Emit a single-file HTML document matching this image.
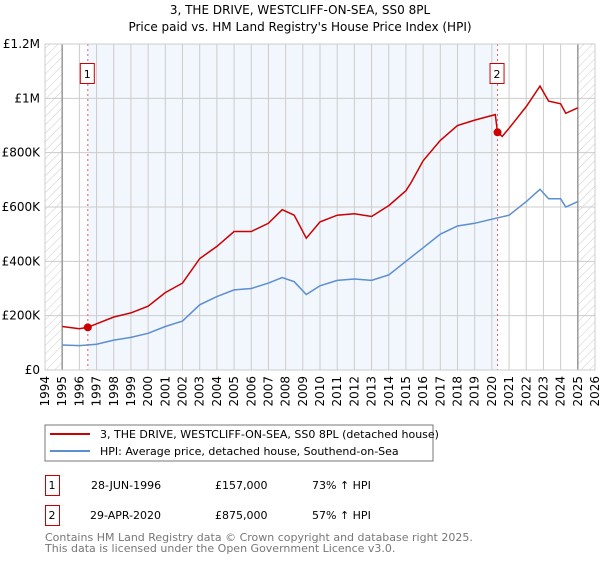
<!DOCTYPE html>
<html><head><meta charset="utf-8"><style>
body{margin:0;background:#fff;width:600px;height:560px;overflow:hidden;font-family:"DejaVu Sans","Liberation Sans",sans-serif;}
svg text{font-family:"DejaVu Sans","Liberation Sans",sans-serif;}
</style></head><body>
<svg id="c" width="600" height="560" xmlns="http://www.w3.org/2000/svg">
<defs><pattern id="hatch" width="6" height="6" patternUnits="userSpaceOnUse" patternTransform="rotate(45)"><line x1="0" y1="0" x2="0" y2="6" stroke="#ccc" stroke-width="1"/></pattern></defs>
<text x="300" y="14" text-anchor="middle" font-size="12" fill="#000">3, THE DRIVE, WESTCLIFF-ON-SEA, SS0 8PL</text>
<text x="300" y="31" text-anchor="middle" font-size="12" fill="#000">Price paid vs. HM Land Registry's House Price Index (HPI)</text>
<g id="plot"></g>
<rect x="45" y="425" width="388" height="36" fill="#fff" stroke="#777"/>
<line x1="50" y1="434" x2="90" y2="434" stroke="#cc0000" stroke-width="2"/>
<text x="100" y="438" font-size="11">3, THE DRIVE, WESTCLIFF-ON-SEA, SS0 8PL (detached house)</text>
<line x1="50" y1="451" x2="90" y2="451" stroke="#5b8fd0" stroke-width="2"/>
<text x="100" y="455" font-size="11">HPI: Average price, detached house, Southend-on-Sea</text>
<g>
<rect x="45.5" y="475.5" width="14" height="20" fill="none" stroke="#cc0000"/>
<text x="52" y="489" text-anchor="middle" font-size="11">1</text>
<text x="91" y="489" font-size="11">28-JUN-1996</text>
<text x="215" y="489" font-size="11">£157,000</text>
<text x="312" y="489" font-size="11">73% ↑ HPI</text></g>
<g>
<rect x="45.5" y="505.5" width="14" height="20" fill="none" stroke="#cc0000"/>
<text x="52" y="519" text-anchor="middle" font-size="11">2</text>
<text x="90" y="519" font-size="11">29-APR-2020</text>
<text x="215" y="519" font-size="11">£875,000</text>
<text x="312" y="519" font-size="11">57% ↑ HPI</text></g>
<text x="45" y="541" font-size="11" fill="#777">Contains HM Land Registry data © Crown copyright and database right 2025.</text>
<text x="45" y="552" font-size="11" fill="#777">This data is licensed under the Open Government Licence v3.0.</text>
</svg>
<script>
const years=[1994,1995,1996,1997,1998,1999,2000,2001,2002,2003,2004,2005,2006,2007,2008,2009,2010,2011,2012,2013,2014,2015,2016,2017,2018,2019,2020,2021,2022,2023,2024,2025,2026];
const yTicks=[0,200000,400000,600000,800000,1000000,1200000];
const yTickLabels=["£0","£200K","£400K","£600K","£800K","£1M","£1.2M"];
const hpiT=[1995,1996,1997,1998,1999,2000,2001,2002,2003,2004,2005,2006,2007,2007.8,2008.5,2009.2,2010,2011,2012,2013,2014,2015,2016,2017,2018,2019,2020,2021,2022,2022.8,2023.3,2024,2024.3,2025];
const hpiV=[92,90,95,110,120,135,160,180,240,270,295,300,320,340,325,278,310,330,335,330,350,400,450,500,530,540,555,570,620,665,630,630,600,620];
const propT=[1995,1996,1996.49,1997,1998,1999,2000,2001,2002,2003,2004,2005,2006,2007,2007.8,2008.5,2009.2,2010,2011,2012,2013,2014,2015,2015.3,2016,2017,2018,2019,2020.2,2020.33,2020.6,2021,2022,2022.8,2023.3,2024,2024.3,2025];
const propV=[160,152,157,170,195,210,235,285,320,410,455,510,510,540,590,570,485,545,570,575,565,605,660,690,770,845,900,920,940,875,860,890,970,1045,990,980,945,965];
const saleT=[1996.49,2020.33];
const saleV=[157,875];
const saleLabels=["1","2"];
const L=45,R=595,T=44,B=370;
const x=t=>L+(t-1994)/32*(R-L);
const y=v=>B-v/1200000*(B-T);
const NS="http://www.w3.org/2000/svg";
const g=document.getElementById('plot');
function mk(tag,a){const e=document.createElementNS(NS,tag);for(const k in a)e.setAttribute(k,a[k]);g.appendChild(e);return e;}
let e;
e=mk('rect',{x:L,y:T,width:R-L,height:B-T,fill:'#fff'});
e=mk('rect',{x:x(saleT[0]),y:T,width:x(saleT[1])-x(saleT[0]),height:B-T,fill:'#f2f6fd'});


e=mk('rect',{x:L,y:T,width:x(1995)-L,height:B-T,fill:'url(#hatch)'});


e=mk('rect',{x:x(2025),y:T,width:R-x(2025),height:B-T,fill:'url(#hatch)'});


years.forEach(yr=>{
 e=mk('line',{x1:x(yr),x2:x(yr),y1:T,y2:B,stroke:'#ccc','stroke-width':1});
 
 
 const t=mk('text',{x:0,y:0,'font-size':12,'text-anchor':'end',transform:`translate(${x(yr)+4},${B+6}) rotate(-90)`});
 t.textContent=yr;
 
 
});
yTicks.forEach((v,i)=>{
 e=mk('line',{x1:L,x2:R,y1:y(v),y2:y(v),stroke:'#ccc','stroke-width':1});
 
 
 const t=mk('text',{x:L-5,y:y(v)+4,'font-size':12,'text-anchor':'end'});
 t.textContent=yTickLabels[i];
 
 
});
[1995,2025].forEach(yr=>{e=mk('line',{x1:x(yr),x2:x(yr),y1:T,y2:B,stroke:'#999','stroke-width':1.5});
 
 });
const pts=(ts,vs)=>ts.map((t,i)=>x(t).toFixed(1)+','+y(vs[i]*1000).toFixed(1)).join(' ');
e=mk('polyline',{points:pts(hpiT,hpiV),fill:'none',stroke:'#5b8fd0','stroke-width':1.5});


e=mk('polyline',{points:pts(propT,propV),fill:'none',stroke:'#cc0000','stroke-width':1.5});


saleT.forEach((t,i)=>{
 e=mk('line',{x1:x(t),x2:x(t),y1:T,y2:B,stroke:'#e06060','stroke-width':1,'stroke-dasharray':'2,3'});
 
 
 e=mk('circle',{cx:x(t),cy:y(saleV[i]*1000),r:4,fill:'#cc0000'});
 
 
 e=mk('rect',{x:x(t)-7.5,y:63.5,width:14,height:20,fill:'#fff',stroke:'#cc0000'});
 
 
 const tx=mk('text',{x:x(t)-0.5,y:78,'font-size':11,'text-anchor':'middle'});
 tx.textContent=saleLabels[i];
 
 
});
e=mk('rect',{x:L,y:T,width:R-L,height:B-T,fill:'none',stroke:'#ccc'});
</script>
</body></html>
